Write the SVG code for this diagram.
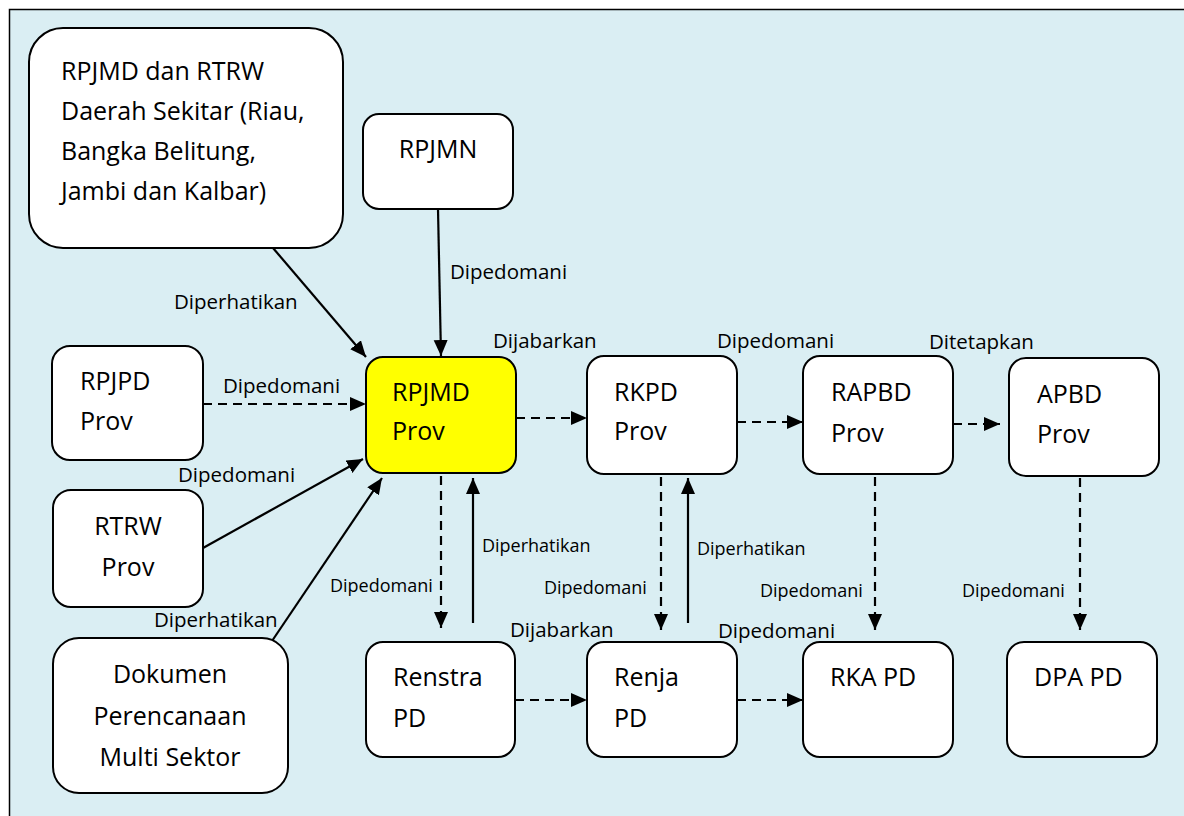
<svg xmlns="http://www.w3.org/2000/svg" width="1184" height="816" viewBox="0 0 1184 816">
<defs>
<style>
.box{fill:#fff;stroke:#000;stroke-width:2}
.hl{fill:#ffff00}
.t{font-family:"Open Sans","Noto Sans","Liberation Sans",sans-serif;font-size:25px;fill:#000}
.c{text-anchor:middle}
.lb{font-family:"Open Sans","Noto Sans","Liberation Sans",sans-serif;font-size:20.5px;fill:#000}
.ls{font-family:"Open Sans","Noto Sans","Liberation Sans",sans-serif;font-size:18px;fill:#000}
.s{fill:none;stroke:#000;stroke-width:2.2;marker-end:url(#ah)}
.d{fill:none;stroke:#000;stroke-width:2.2;stroke-dasharray:9 6;marker-end:url(#ah)}
</style>
<marker id="ah" markerUnits="userSpaceOnUse" markerWidth="17" markerHeight="15" refX="16" refY="7" orient="auto">
<path d="M0,0 L16,7 L0,14 Z" fill="#000"/>
</marker>
</defs>
<rect x="9.5" y="9.5" width="1200" height="830" fill="#daeef3" stroke="#000" stroke-width="1.5"/>

<g id="connectors">
<line class="s" x1="273" y1="248" x2="366" y2="357"/>
<line class="s" x1="438" y1="209" x2="441" y2="356"/>
<line class="d" x1="203" y1="404" x2="366" y2="404"/>
<line class="d" x1="516" y1="418" x2="587" y2="418"/>
<line class="d" x1="737" y1="422" x2="803" y2="422"/>
<line class="d" x1="953" y1="424" x2="1000" y2="424"/>
<line class="s" x1="203" y1="548" x2="363" y2="459"/>
<line class="s" x1="272" y1="641" x2="382" y2="478"/>
<line class="d" x1="441" y1="476" x2="441" y2="628"/>
<line class="s" x1="473" y1="623" x2="473" y2="478"/>
<line class="d" x1="515" y1="700" x2="587" y2="700"/>
<line class="d" x1="661" y1="477" x2="661" y2="630"/>
<line class="s" x1="688" y1="623" x2="688" y2="478"/>
<line class="d" x1="737" y1="700" x2="803" y2="700"/>
<line class="d" x1="875" y1="477" x2="875" y2="630"/>
<line class="d" x1="1080" y1="478" x2="1080" y2="630"/>
</g>

<g id="labels">
<text class="lb" x="174" y="309">Diperhatikan</text>
<text class="lb" x="450" y="279">Dipedomani</text>
<text class="lb" x="493" y="348">Dijabarkan</text>
<text class="lb" x="717" y="348">Dipedomani</text>
<text class="lb" x="929" y="349">Ditetapkan</text>
<text class="lb" x="223" y="393">Dipedomani</text>
<text class="lb" x="178" y="482">Dipedomani</text>
<text class="lb" x="154" y="627">Diperhatikan</text>
<text class="lb" x="510" y="637">Dijabarkan</text>
<text class="lb" x="718" y="638">Dipedomani</text>
<text class="ls" x="482" y="552">Diperhatikan</text>
<text class="ls" x="697" y="555">Diperhatikan</text>
<text class="ls" x="330" y="592">Dipedomani</text>
<text class="ls" x="544" y="594">Dipedomani</text>
<text class="ls" x="760" y="597">Dipedomani</text>
<text class="ls" x="962" y="597">Dipedomani</text>
</g>

<g id="node-daerah-sekitar">
<rect class="box" x="29" y="28" width="314" height="220" rx="34"/>
<text class="t" x="61" y="80">RPJMD dan RTRW</text>
<text class="t" x="61" y="120">Daerah Sekitar (Riau,</text>
<text class="t" x="61" y="160">Bangka Belitung,</text>
<text class="t" x="61" y="200">Jambi dan Kalbar)</text>
</g>
<g id="node-rpjmn">
<rect class="box" x="363" y="114" width="150" height="95" rx="16"/>
<text class="t c" x="438" y="158">RPJMN</text>
</g>
<g id="node-rpjpd">
<rect class="box" x="52" y="346" width="151" height="114" rx="18"/>
<text class="t" x="80" y="390">RPJPD</text>
<text class="t" x="80" y="430">Prov</text>
</g>
<g id="node-rpjmd">
<rect class="box hl" x="366" y="357" width="150" height="116" rx="17"/>
<text class="t" x="392" y="401">RPJMD</text>
<text class="t" x="392" y="440">Prov</text>
</g>
<g id="node-rkpd">
<rect class="box" x="587" y="356" width="150" height="118" rx="17"/>
<text class="t" x="614" y="401">RKPD</text>
<text class="t" x="614" y="440">Prov</text>
</g>
<g id="node-rapbd">
<rect class="box" x="803" y="356" width="150" height="118" rx="17"/>
<text class="t" x="831" y="401">RAPBD</text>
<text class="t" x="831" y="442">Prov</text>
</g>
<g id="node-apbd">
<rect class="box" x="1009" y="358" width="150" height="118" rx="17"/>
<text class="t" x="1037" y="403">APBD</text>
<text class="t" x="1037" y="443">Prov</text>
</g>
<g id="node-rtrw">
<rect class="box" x="53" y="490" width="150" height="117" rx="18"/>
<text class="t c" x="128" y="535">RTRW</text>
<text class="t c" x="128" y="576">Prov</text>
</g>
<g id="node-dokumen">
<rect class="box" x="53" y="638" width="235" height="155" rx="26"/>
<text class="t c" x="170" y="683">Dokumen</text>
<text class="t c" x="170" y="725">Perencanaan</text>
<text class="t c" x="170" y="766">Multi Sektor</text>
</g>
<g id="node-renstra">
<rect class="box" x="366" y="642" width="149" height="115" rx="17"/>
<text class="t" x="393" y="686">Renstra</text>
<text class="t" x="393" y="727">PD</text>
</g>
<g id="node-renja">
<rect class="box" x="587" y="642" width="150" height="115" rx="17"/>
<text class="t" x="614" y="686">Renja</text>
<text class="t" x="614" y="727">PD</text>
</g>
<g id="node-rka">
<rect class="box" x="803" y="642" width="150" height="115" rx="17"/>
<text class="t" x="830" y="686">RKA PD</text>
</g>
<g id="node-dpa">
<rect class="box" x="1007" y="642" width="150" height="115" rx="17"/>
<text class="t" x="1034" y="686">DPA PD</text>
</g>
</svg>
